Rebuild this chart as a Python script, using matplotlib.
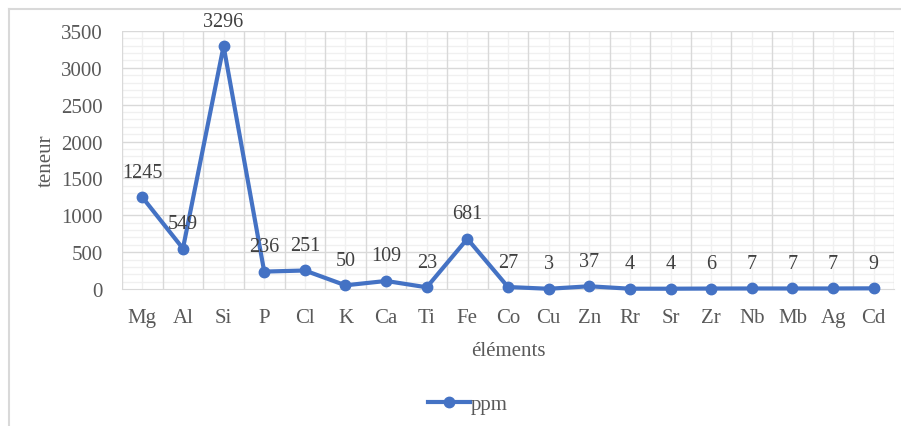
import matplotlib.pyplot as plt
from matplotlib.ticker import MultipleLocator
from matplotlib.lines import Line2D

elements = ['Mg', 'Al', 'Si', 'P', 'Cl', 'K', 'Ca', 'Ti', 'Fe', 'Co',
            'Cu', 'Zn', 'Rr', 'Sr', 'Zr', 'Nb', 'Mb', 'Ag', 'Cd']
ppm = [1245, 549, 3296, 236, 251, 50, 109, 23, 681, 27,
       3, 37, 4, 4, 6, 7, 7, 7, 9]

plt.rcParams['font.family'] = ['Liberation Serif', 'DejaVu Serif']
blue = '#4472C4'
txt = '#595959'

fig = plt.figure(figsize=(9.01, 4.27), dpi=100)
ax = fig.add_axes([122/901, 1-290/427, (894-122)/901, (290-32)/427])

x = list(range(len(elements)))
ax.plot(x, ppm, color=blue, lw=3, marker='o', ms=7.5, zorder=3, clip_on=False)

for xi, v in zip(x, ppm):
    ax.annotate(str(v), (xi, v), xytext=(0, 18), textcoords='offset points',
                ha='center', va='center', fontsize=14.5, color='#404040')

ax.set_xlim(-0.5, len(elements) - 0.5)
ax.set_ylim(0, 3500)
ax.set_xticks(x)
ax.set_xticklabels(elements)
ax.yaxis.set_major_locator(MultipleLocator(500))

# excel style grid: light minor lines, darker majors at category edges
for yv in range(100, 3500, 100):
    if yv % 500:
        ax.axhline(yv, color='#f0f0f0', lw=1, zorder=0)
for yv in range(500, 3501, 500):
    ax.axhline(yv, color='#d9d9d9', lw=1, zorder=1)
for xi in x:
    ax.axvline(xi, color='#f0f0f0', lw=1, zorder=0)
for xi in range(len(elements) + 1):
    ax.axvline(xi - 0.5, color='#d9d9d9', lw=1, zorder=1)

for s in ['top', 'right', 'left']:
    ax.spines[s].set_visible(False)
ax.spines['bottom'].set_color('#d9d9d9')
ax.tick_params(which='both', length=0, labelsize=15, colors=txt)
ax.tick_params(axis='x', pad=14)
ax.tick_params(axis='y', pad=14)

ax.set_ylabel('teneur', fontsize=15, color=txt, labelpad=4)
ax.set_xlabel('éléments', fontsize=15, color=txt, labelpad=10)

handle = Line2D([], [], color=blue, lw=3, marker='o', ms=7.5)
fig.legend([handle], ['ppm'], loc='center', bbox_to_anchor=(468/901, 1-405/427),
           frameon=False, fontsize=15, labelcolor=txt, handlelength=2.0,
           handletextpad=0.05)

# chart border (top and left visible)
fig.add_artist(Line2D([9/901, 1], [1-10/427, 1-10/427], color='#d9d9d9', lw=1.5,
                      transform=fig.transFigure))
fig.add_artist(Line2D([9/901, 9/901], [0, 1-10/427], color='#d9d9d9', lw=1.5,
                      transform=fig.transFigure))

fig.savefig('out.png', dpi=100)
